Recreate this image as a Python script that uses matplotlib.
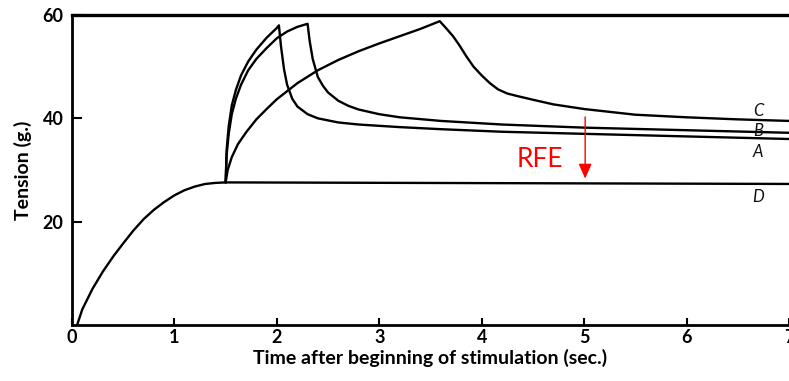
import numpy as np
import matplotlib.pyplot as plt

# curve D: isometric tetanus (no stretch)
t_D = [0.05, 0.1, 0.2, 0.3, 0.4, 0.5, 0.6, 0.7, 0.8, 0.9, 1.0, 1.1, 1.2, 1.3, 1.4, 1.5, 7.0]
y_D = [0, 3.0, 7.0, 10.3, 13.2, 15.8, 18.3, 20.5, 22.3, 23.8, 25.1, 26.1, 26.8, 27.3, 27.5, 27.6, 27.3]

# curve A: fast stretch, ends at 2.0 s
t_A = [1.5, 1.51, 1.53, 1.56, 1.6, 1.65, 1.72, 1.8, 1.9, 2.0, 2.02, 2.04, 2.07, 2.1, 2.15,
       2.2, 2.3, 2.4, 2.6, 2.8, 3.2, 3.6, 4.2, 5.0, 6.0, 7.0]
y_A = [27.6, 34, 38.5, 42.5, 45.5, 48.3, 51, 53.3, 55.6, 57.5, 58.0, 54, 49.5, 46.5, 43.8,
       42.3, 40.8, 40.0, 39.2, 38.8, 38.3, 37.9, 37.4, 37.0, 36.5, 36.0]

# curve B: stretch ends at 2.3 s
t_B = [1.5, 1.51, 1.53, 1.56, 1.6, 1.65, 1.72, 1.8, 1.9, 2.0, 2.1, 2.2, 2.3, 2.32, 2.35,
       2.4, 2.45, 2.5, 2.6, 2.7, 2.8, 3.0, 3.2, 3.6, 4.2, 5.0, 6.0, 7.0]
y_B = [27.6, 33, 37, 40.8, 43.8, 46.5, 49.3, 51.5, 53.6, 55.5, 56.8, 57.7, 58.3, 55, 51.5,
       48, 46.3, 45, 43.4, 42.4, 41.7, 40.8, 40.2, 39.5, 38.8, 38.2, 37.7, 37.2]

# curve C: slow stretch, ends at 3.6 s
t_C = [1.5, 1.52, 1.56, 1.62, 1.7, 1.8, 1.9, 2.0, 2.2, 2.4, 2.6, 2.8, 3.0, 3.2, 3.4, 3.59,
       3.65, 3.72, 3.78, 3.85, 3.92, 4.0, 4.08, 4.16, 4.25, 4.35, 4.5, 4.7, 5.0, 5.5, 6.0, 6.5, 7.0]
y_C = [27.6, 30, 32.5, 35, 37.3, 39.8, 41.8, 43.7, 46.8, 49.3, 51.3, 53.0, 54.5, 55.9, 57.3, 58.8,
       57.5, 55.9, 54.2, 52.0, 50.0, 48.3, 46.8, 45.6, 44.8, 44.3, 43.6, 42.7, 41.8, 40.7, 40.2, 39.8, 39.5]

curve_labels = ["C", "B", "A", "D"]
label_y = [41.4, 37.5, 33.4, 24.7]

xticks = [0, 1, 2, 3, 4, 5, 6, 7]
yticks = [20, 40, 60]

plt.rcParams['font.family'] = ['Lato', 'DejaVu Sans']

fig = plt.figure(figsize=(7.89, 3.81), dpi=100)
ax = fig.add_axes([72/789, 56/381, 1 - 72/789, (325 - 15)/381])

for t, y in [(t_D, y_D), (t_A, y_A), (t_B, y_B), (t_C, y_C)]:
    ax.plot(t, y, color="black", lw=1.7, solid_capstyle="round", solid_joinstyle="round")

for lab, yy in zip(curve_labels, label_y):
    ax.text(6.7, yy, lab, ha="center", va="center", fontsize=12, style="italic", color="#111111")

# RFE annotation
ax.annotate("", xy=(5.01, 27.8), xytext=(5.01, 40.8),
            arrowprops=dict(arrowstyle="-|>,head_length=0.9,head_width=0.4", color="red", lw=1.0))
ax.text(4.57, 32.0, "RFE", color="red", fontsize=19, ha="center", va="center")

ax.set_xlim(0, 7)
ax.set_ylim(0, 60)
ax.set_xticks(xticks)
ax.set_yticks(yticks)
ax.tick_params(axis="x", direction="in", length=5, width=1.5, pad=3, labelsize=13)
ax.tick_params(axis="y", direction="in", length=7, width=1.5, pad=6, labelsize=13)
for lab in ax.get_xticklabels() + ax.get_yticklabels():
    lab.set_fontweight("bold")

ax.spines["right"].set_visible(False)
ax.spines["top"].set_linewidth(2.4)
ax.spines["left"].set_linewidth(2.0)
ax.spines["bottom"].set_linewidth(2.0)

ax.set_xlabel("Time after beginning of stimulation (sec.)", fontsize=14, fontweight="bold", labelpad=2)
ax.set_ylabel("Tension (g.)", fontsize=14, fontweight="bold", labelpad=8)

plt.savefig("out.png", dpi=100)
